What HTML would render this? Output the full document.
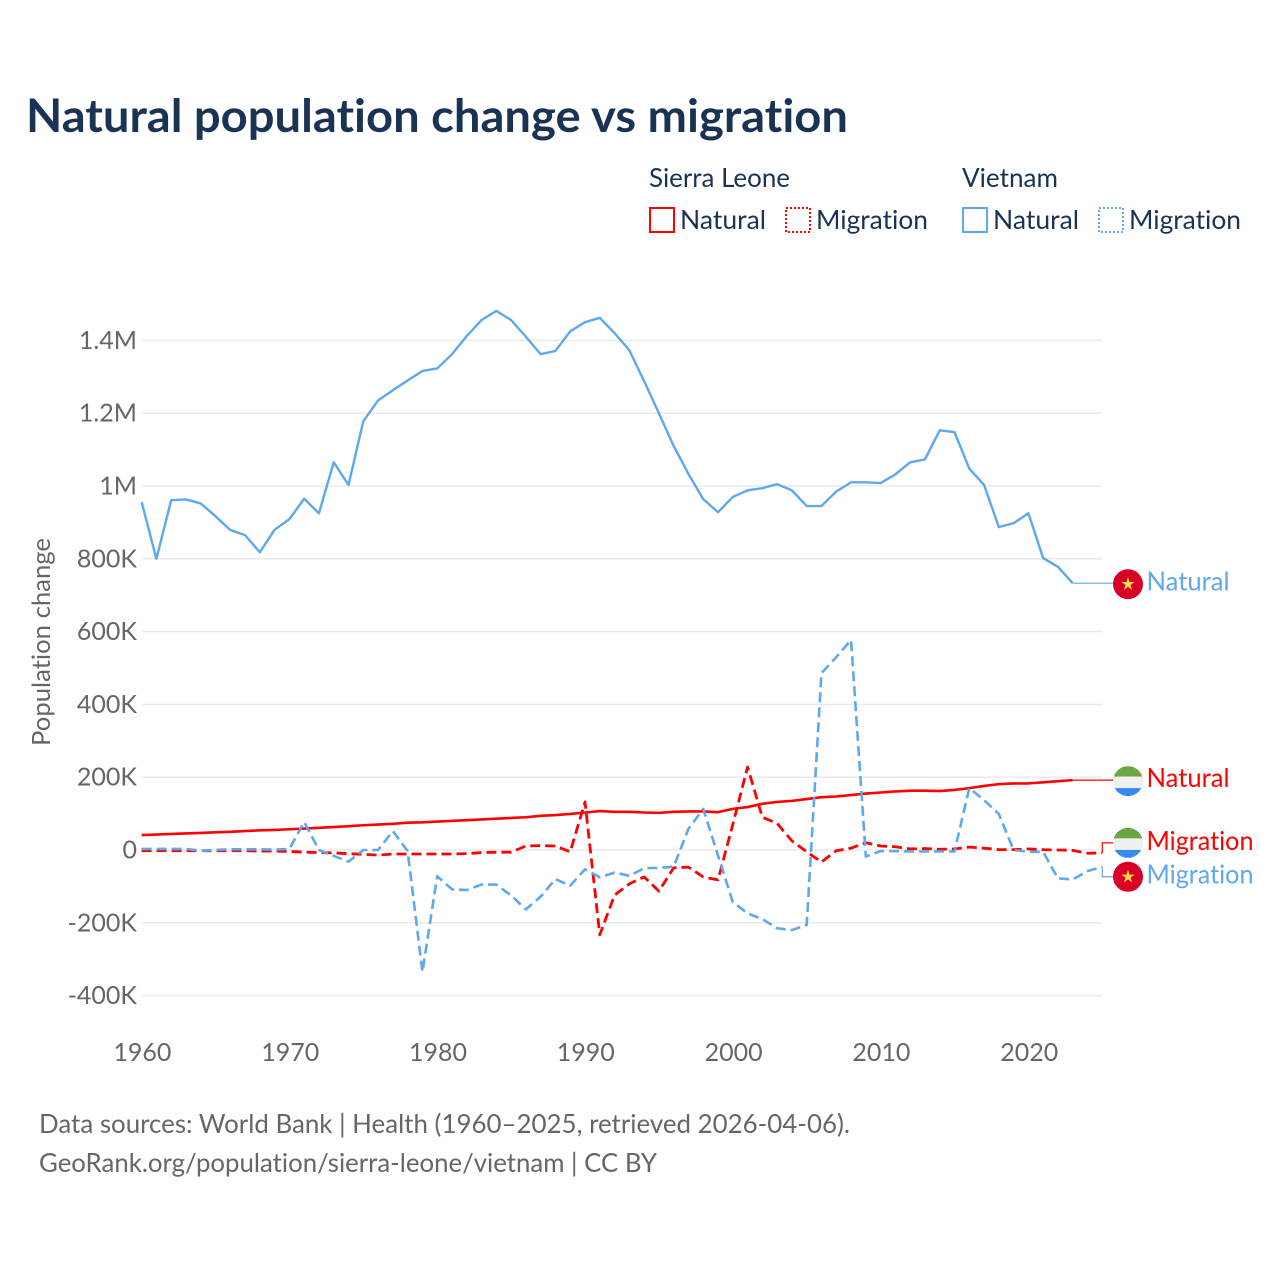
<!DOCTYPE html>
<html lang="en">
<head>
<meta charset="utf-8">
<title>Natural population change vs migration</title>
<style>
html,body{margin:0;padding:0;background:#fff;width:1280px;height:1280px;overflow:hidden}
svg{display:block}
text{font-family:"Lato","Carlito","Liberation Sans",sans-serif;font-variant-ligatures:none;font-feature-settings:"liga" 0,"clig" 0}
.tick{font-size:25px;fill:#666}
.leg{font-size:26.5px;fill:#1a3354}
.src{font-size:26px;fill:#666}
.end{font-size:26.5px}
</style>
</head>
<body>
<svg id="chart" xmlns="http://www.w3.org/2000/svg" width="1280" height="1280" viewBox="0 0 1280 1280">
  <rect width="1280" height="1280" fill="#fff"/>
  <text x="26" y="132" font-size="46" font-weight="700" fill="#1a3354" textLength="822" lengthAdjust="spacingAndGlyphs">Natural population change vs migration</text>

  <g>
    <text class="leg" x="649" y="187" textLength="141" lengthAdjust="spacingAndGlyphs">Sierra Leone</text>
    <text class="leg" x="962" y="187" textLength="96" lengthAdjust="spacingAndGlyphs">Vietnam</text>
    <g>
      <rect x="650" y="208" width="24" height="24" fill="none" stroke="#ff0000" stroke-width="2"/>
      <text class="leg" x="680" y="229" textLength="86" lengthAdjust="spacingAndGlyphs">Natural</text>
    </g>
    <g>
      <rect x="786" y="208" width="24" height="24" fill="none" stroke="#ff0000" stroke-width="2" stroke-dasharray="2 2"/>
      <text class="leg" x="816" y="229" textLength="112" lengthAdjust="spacingAndGlyphs">Migration</text>
    </g>
    <g>
      <rect x="963" y="208" width="24" height="24" fill="none" stroke="#5ea8ee" stroke-width="2"/>
      <text class="leg" x="993" y="229" textLength="86" lengthAdjust="spacingAndGlyphs">Natural</text>
    </g>
    <g>
      <rect x="1099" y="208" width="24" height="24" fill="none" stroke="#5ea8ee" stroke-width="2" stroke-dasharray="2 2"/>
      <text class="leg" x="1129" y="229" textLength="112" lengthAdjust="spacingAndGlyphs">Migration</text>
    </g>
  </g>

  <g id="grid"></g>
  <g id="yticks"></g>
  <g id="xticks"></g>
  <text class="tick" x="0" y="0" transform="translate(50 642) rotate(-90)" text-anchor="middle" textLength="208" lengthAdjust="spacingAndGlyphs">Population change</text>

  <g id="series"></g>
  <g id="connectors"></g>

  <defs>
    <clipPath id="flag-clip"><circle cx="0" cy="0" r="15"/></clipPath>
  </defs>

  <g id="end-vn-nat">
    <circle r="15" fill="#d80027"/>
    <polygon fill="#ffda44" points="0,-7 1.57,-2.16 6.66,-2.16 2.54,0.83 4.11,5.66 0,2.67 -4.11,5.66 -2.54,0.83 -6.66,-2.16 -1.57,-2.16"/>
    <text class="end" x="18.5" y="6.5" fill="#5ea8ee" textLength="83" lengthAdjust="spacingAndGlyphs">Natural</text>
  </g>
  <g id="end-sl-nat">
    <g clip-path="url(#flag-clip)">
      <rect x="-15" y="-15" width="30" height="10.5" fill="#6da544"/>
      <rect x="-15" y="-4.5" width="30" height="11.5" fill="#f0f0f0"/>
      <rect x="-15" y="7" width="30" height="8" fill="#338af3"/>
    </g>
    <text class="end" x="18.5" y="6" fill="#ff0000" textLength="83" lengthAdjust="spacingAndGlyphs">Natural</text>
  </g>
  <g id="end-sl-mig">
    <g clip-path="url(#flag-clip)">
      <rect x="-15" y="-15" width="30" height="10.5" fill="#6da544"/>
      <rect x="-15" y="-4.5" width="30" height="11.5" fill="#f0f0f0"/>
      <rect x="-15" y="7" width="30" height="8" fill="#338af3"/>
    </g>
    <text class="end" x="18.5" y="7" fill="#ff0000" textLength="107" lengthAdjust="spacingAndGlyphs">Migration</text>
  </g>
  <g id="end-vn-mig">
    <circle r="15" fill="#d80027"/>
    <polygon fill="#ffda44" points="0,-7 1.57,-2.16 6.66,-2.16 2.54,0.83 4.11,5.66 0,2.67 -4.11,5.66 -2.54,0.83 -6.66,-2.16 -1.57,-2.16"/>
    <text class="end" x="18.5" y="7" fill="#5ea8ee" textLength="107" lengthAdjust="spacingAndGlyphs">Migration</text>
  </g>

  <text class="src" x="39" y="1133" textLength="811" lengthAdjust="spacingAndGlyphs">Data sources: World Bank | Health (1960–2025, retrieved 2026-04-06).</text>
  <text class="src" x="39" y="1172" textLength="618" lengthAdjust="spacingAndGlyphs">GeoRank.org/population/sierra-leone/vietnam | CC BY</text>
</svg>
<script>
// Values in thousands of people, one per year from startYear.
const startYear = 1960;
const yTickValues = [-400, -200, 0, 200, 400, 600, 800, 1000, 1200, 1400];
const yTickLabels = ["-400K", "-200K", "0", "200K", "400K", "600K", "800K", "1M", "1.2M", "1.4M"];
const xTickValues = [1960, 1970, 1980, 1990, 2000, 2010, 2020];
const xTickLabels = ["1960", "1970", "1980", "1990", "2000", "2010", "2020"];
const sierraLeoneNatural = [41,42.5,44,45.5,47,48.5,50,52,54,55,57,59,61,63,65.5,68,70,72,75,76,78,80,82,84,86,88,90,94,96,99,103,107,105,105,103,102,105,106,106,104,113,118,127,132,135,140,145,147,151,155,158,161,163,163,162,165,170,176,181,183,183,186,189,192];
const sierraLeoneMigration = [-2,-2,-2,-2,-2,-2,-2,-2,-3,-3,-4,-6,-7,-8,-10,-12,-14,-11,-11,-11,-11,-11,-10,-7,-6,-6,11,12,11,-5,132,-233,-124,-93,-74,-113,-49,-47,-74,-82,70,228,90,73,25,-5,-33,-2,5,20,11,9,3,4,2,3,8,5,1,1,3,1,0,-1,-9,-8];
const vietnamNatural = [956,800,961,963,952,917,879,865,818,880,909,965,925,1065,1003,1178,1235,1263,1290,1316,1323,1362,1412,1456,1481,1456,1410,1362,1371,1425,1450,1462,1420,1373,1288,1200,1110,1033,964,928,970,988,994,1005,988,945,945,985,1010,1010,1008,1032,1065,1073,1153,1148,1048,1003,887,898,925,802,778,733];
const vietnamMigration = [3,3,3,3,-2,0,2,2,2,1,3,77,0,-16,-32,0,0,52,-3,-335,-72,-108,-110,-95,-95,-125,-163,-128,-80,-98,-53,-75,-62,-71,-50,-49,-46,58,113,-15,-143,-174,-190,-215,-220,-206,486,530,577,-18,-3,-3,-4,-4,-4,-4,170,137,99,0,-5,-5,-78,-81,-58,-46];

const NS = "http://www.w3.org/2000/svg";
const xAxis = year => 141.6 + (year - 1960) * 14.78;
const yAxis = k => 850 - k * 0.364;
const RED = "#ff0000";
const BLUE = "#5ea8ee";

function make(tag, attrs, parent) {
  const el = document.createElementNS(NS, tag);
  for (const key in attrs) el.setAttribute(key, attrs[key]);
  parent.appendChild(el);
  return el;
}

const gridGroup = document.getElementById("grid");
const yTickGroup = document.getElementById("yticks");
yTickValues.forEach((value, i) => {
  const line = make("line", { x1: 142, x2: 1102, y1: yAxis(value), y2: yAxis(value), stroke: "#e8e8e8", "stroke-width": 1.3 }, gridGroup);
  
  
  const label = make("text", { class: "tick", x: 137, y: yAxis(value) + 8.5, "text-anchor": "end" }, yTickGroup);
  
  
  label.textContent = yTickLabels[i];
});

const xTickGroup = document.getElementById("xticks");
xTickValues.forEach((value, i) => {
  const label = make("text", { class: "tick", x: xAxis(value) + 0.8, y: 1061, "text-anchor": "middle" }, xTickGroup);
  
  
  label.textContent = xTickLabels[i];
});

function pathFor(values) {
  return values.map((v, i) => (i ? "L" : "M") + xAxis(startYear + i).toFixed(2) + " " + yAxis(v).toFixed(2)).join(" ");
}

const seriesGroup = document.getElementById("series");
const slNatLine = make("path", { d: pathFor(sierraLeoneNatural), fill: "none", stroke: RED, "stroke-width": 2.6, "stroke-linejoin": "round" }, seriesGroup);


const slMigLine = make("path", { d: pathFor(sierraLeoneMigration), fill: "none", stroke: RED, "stroke-width": 2.8, "stroke-dasharray": "10 5", "stroke-linejoin": "round" }, seriesGroup);


const vnNatLine = make("path", { d: pathFor(vietnamNatural), fill: "none", stroke: BLUE, "stroke-width": 2.4, "stroke-linejoin": "round" }, seriesGroup);


const vnMigLine = make("path", { d: pathFor(vietnamMigration), fill: "none", stroke: BLUE, "stroke-width": 2.6, "stroke-dasharray": "10 5", "stroke-linejoin": "round" }, seriesGroup);



const connectorGroup = document.getElementById("connectors");
const FLAG_X = 1128;
function lastPoint(values) {
  return { x: xAxis(startYear + values.length - 1), y: yAxis(values[values.length - 1]) };
}
function endLabel(id, values, offset, color, connectorName) {
  const p = lastPoint(values);
  const labelY = p.y + offset;
  const flagShift = offset === 0 ? 1 : 0;
  document.getElementById(id).setAttribute("transform", "translate(" + FLAG_X + " " + (labelY + flagShift) + ")");
  const bendX = Math.max(p.x, 1102);
  const d = offset === 0
    ? "M" + p.x + " " + p.y + " H1113"
    : "M" + p.x + " " + p.y + " H" + bendX + " V" + labelY + " H1113";
  const c = make("path", { d: d, fill: "none", stroke: color, "stroke-width": 1.2 }, connectorGroup);
  
  
}
endLabel("end-vn-nat", vietnamNatural, 0, BLUE, "connector-vietnam-natural");
endLabel("end-sl-nat", sierraLeoneNatural, 0, RED, "connector-sierra-leone-natural");
endLabel("end-sl-mig", sierraLeoneMigration, -10, RED, "connector-sierra-leone-migration");
endLabel("end-vn-mig", vietnamMigration, 10, BLUE, "connector-vietnam-migration");
</script>
</body>
</html>
